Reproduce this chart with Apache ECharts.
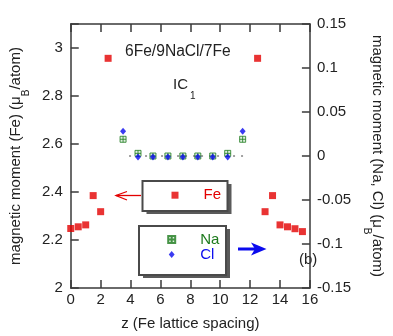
<!DOCTYPE html>
<html>
<head>
<meta charset="utf-8">
<script src="https://cdn.jsdelivr.net/npm/echarts@6/dist/echarts.min.js"></script>
<style>
  html, body { margin: 0; padding: 0; background: #fff; }
  #chart { width: 393px; height: 336px; }
</style>
</head>
<body>
<div id="chart"></div>
<script>
// Layer positions along z (Fe lattice spacing)
const feZ = [0, 0.5, 1, 1.5, 2, 2.5, 12.5, 13, 13.5, 14, 14.5, 15, 15.5];
// Fe moments (left axis, muB/atom)
const feMoment = [2.248, 2.255, 2.263, 2.385, 2.318, 2.957, 2.957, 2.318, 2.385, 2.263, 2.255, 2.247, 2.235];

const naclZ = [3.5, 4.5, 5.5, 6.5, 7.5, 8.5, 9.5, 10.5, 11.5];
// Na and Cl moments (right axis, muB/atom)
const naMoment = [0.019, 0.003, 0.0, 0.0, 0.0, 0.0, 0.0, 0.003, 0.019];
const clMoment = [0.028, -0.001, -0.001, -0.001, -0.001, -0.001, -0.001, -0.001, 0.028];

// Extent of the dashed zero reference through the NaCl layers
const zeroRefZ = [3.9, 11.6];
const zeroRefValue = [0, 0];

const xTicks = { min: 0, max: 16, interval: 2 };
const feAxis = { min: 2, max: 3.1, interval: 0.2 };
const naclAxis = { min: -0.15, max: 0.15, interval: 0.05 };

const RED = '#e30000';
const GREEN = '#1d7a1d';
const BLUE = '#0a0aee';
const INK = '#222';
const FRAME = '#3a3a3a';
const BOX = '#4a4a4a';
const SHADOW = '#5a5a5a';
const FONT = 'Liberation Sans, Arial, sans-serif';

const pairs = (xs, ys) => xs.map((x, i) => [x, ys[i]]);

const chart = echarts.init(document.getElementById('chart'), null, { renderer: 'canvas' });

const axisCommon = {
  axisLine: { show: true, onZero: false, lineStyle: { color: FRAME, width: 1.5 } },
  axisTick: { show: true, inside: true, length: 8, lineStyle: { color: FRAME, width: 1.5 } },
  splitLine: { show: false },
  axisLabel: { color: INK, fontSize: 15, fontFamily: FONT }
};

const nameRich = {
  m: { fontSize: 15, lineHeight: 16, verticalAlign: 'top', color: INK, fontFamily: FONT },
  s: { fontSize: 10, lineHeight: 10, verticalAlign: 'top', padding: [13, 0, 0, 0], color: INK, fontFamily: FONT }
};

// Marker outlines as paths so legend icons keep their aspect ratio
const feSymbol = 'path://M0,0H10V10H0Z';
const naSymbol = 'path://M0,0H10V10H0Z M5,0V10 M0,5H10';
const clSymbol = 'path://M5,0L10,6L5,12L0,6Z';

// Legend entries: icon, then label pushed right inside the framed box
const legendCommon = {
  orient: 'vertical', padding: 0,
  itemWidth: 7, itemHeight: 7, itemGap: 0,
  symbolKeepAspect: true, selectedMode: false,
  formatter: '{t|{name}}',
  textStyle: {
    fontSize: 15, fontFamily: FONT,
    rich: { t: { fontSize: 15, lineHeight: 18, padding: [0, 0, 0, 20], fontFamily: FONT } }
  }
};

// Framed boxes with a dropped shadow behind each legend
function framedBox(x, y, w, h) {
  return [
    { type: 'rect', z: 1, shape: { x: x + 4, y: y + 3, width: w, height: h }, style: { fill: SHADOW } },
    { type: 'rect', z: 2, shape: { x: x, y: y, width: w, height: h }, style: { fill: '#fff', stroke: BOX, lineWidth: 2 } }
  ];
}

chart.setOption({
  animation: false,
  backgroundColor: '#fff',
  textStyle: { fontFamily: FONT },
  grid: { left: 60, right: 67, top: 24, bottom: 46 },
  xAxis: [
    Object.assign({}, axisCommon, {
      type: 'value', position: 'bottom',
      min: xTicks.min, max: xTicks.max, interval: xTicks.interval,
      axisLabel: Object.assign({}, axisCommon.axisLabel, { margin: 4 }),
      name: 'z (Fe lattice spacing)', nameLocation: 'middle', nameGap: 28,
      nameTextStyle: { color: INK, fontSize: 15, fontFamily: FONT }
    }),
    Object.assign({}, axisCommon, {
      type: 'value', position: 'top',
      min: xTicks.min, max: xTicks.max, interval: xTicks.interval,
      axisLabel: { show: false }
    })
  ],
  yAxis: [
    Object.assign({}, axisCommon, {
      type: 'value', position: 'left',
      min: feAxis.min, max: feAxis.max, interval: feAxis.interval,
      axisLabel: Object.assign({}, axisCommon.axisLabel, {
        margin: 8,
        formatter: v => (Math.abs(v - feAxis.max) < 1e-9 ? '' : String(+v.toFixed(2)))
      }),
      name: '{m|magnetic moment (Fe) (μ}{s|B}{m|/atom)}',
      nameLocation: 'middle', nameGap: 27,
      nameTextStyle: { rich: nameRich }
    }),
    Object.assign({}, axisCommon, {
      type: 'value', position: 'right',
      min: naclAxis.min, max: naclAxis.max, interval: naclAxis.interval,
      axisLabel: Object.assign({}, axisCommon.axisLabel, {
        margin: 7,
        formatter: v => String(+v.toFixed(2))
      }),
      name: '{m|magnetic moment (Na, Cl) (μ}{s|B}{m|/atom)}',
      nameLocation: 'middle', nameGap: 51, nameRotate: -90,
      nameTextStyle: { rich: nameRich }
    })
  ],
  legend: [
    Object.assign({}, legendCommon, {
      data: [{ name: 'Fe', textStyle: { color: RED } }],
      left: 171.5, top: 187.7
    }),
    Object.assign({}, legendCommon, {
      data: [
        { name: 'Na', textStyle: { color: GREEN } },
        { name: 'Cl', textStyle: { color: BLUE } }
      ],
      left: 167.2, top: 232
    })
  ],
  series: [
    {
      name: 'zero', type: 'line', xAxisIndex: 0, yAxisIndex: 1,
      data: pairs(zeroRefZ, zeroRefValue),
      symbol: 'none', silent: true,
      lineStyle: { color: '#444', width: 1, type: [2, 6] },
      z: 1
    },
    {
      name: 'Fe', type: 'scatter', xAxisIndex: 0, yAxisIndex: 0,
      data: pairs(feZ, feMoment),
      symbol: feSymbol, symbolSize: 7,
      itemStyle: { color: RED },
      z: 3
    },
    {
      name: 'Na', type: 'scatter', xAxisIndex: 0, yAxisIndex: 1,
      data: pairs(naclZ, naMoment),
      symbol: naSymbol, symbolSize: 6,
      itemStyle: { color: '#d8ecd8', borderColor: GREEN, borderWidth: 1 },
      z: 3
    },
    {
      name: 'Cl', type: 'scatter', xAxisIndex: 0, yAxisIndex: 1,
      data: pairs(naclZ, clMoment),
      symbol: clSymbol, symbolSize: [6, 7],
      itemStyle: { color: BLUE },
      z: 4
    }
  ],
  graphic: [].concat(
    framedBox(142.5, 181, 85, 30),
    framedBox(139, 226, 87, 49),
    [
      {
        type: 'text', left: 125, top: 44,
        style: { text: '6Fe/9NaCl/7Fe', fill: INK, font: '15.6px ' + FONT }
      },
      {
        type: 'text', left: 173, top: 77,
        style: {
          text: '{a|IC}{b|1}', fill: INK,
          rich: {
            a: { fontSize: 15, lineHeight: 16, verticalAlign: 'top', fontFamily: FONT, fill: INK },
            b: { fontSize: 10, lineHeight: 10, verticalAlign: 'top', padding: [14, 0, 0, 2], fontFamily: FONT, fill: INK }
          }
        }
      },
      {
        type: 'text', left: 299, top: 252,
        style: { text: '(b)', fill: INK, font: '15px ' + FONT }
      },
      // red arrow pointing at the Fe axis
      {
        type: 'line', shape: { x1: 141, y1: 195.5, x2: 116, y2: 195.5 },
        style: { stroke: RED, lineWidth: 1.3 }
      },
      {
        type: 'polyline', shape: { points: [[127, 191.5], [116, 195.5], [127, 200]] },
        style: { stroke: RED, lineWidth: 1.3, fill: null }
      },
      // blue arrow pointing at the Na/Cl axis
      {
        type: 'line', shape: { x1: 238, y1: 249, x2: 257, y2: 249 },
        style: { stroke: BLUE, lineWidth: 3 }
      },
      {
        type: 'polygon', shape: { points: [[266.5, 249], [251, 242.5], [255, 249], [251, 255.5]] },
        style: { fill: BLUE }
      }
    ]
  )
});
</script>
</body>
</html>
